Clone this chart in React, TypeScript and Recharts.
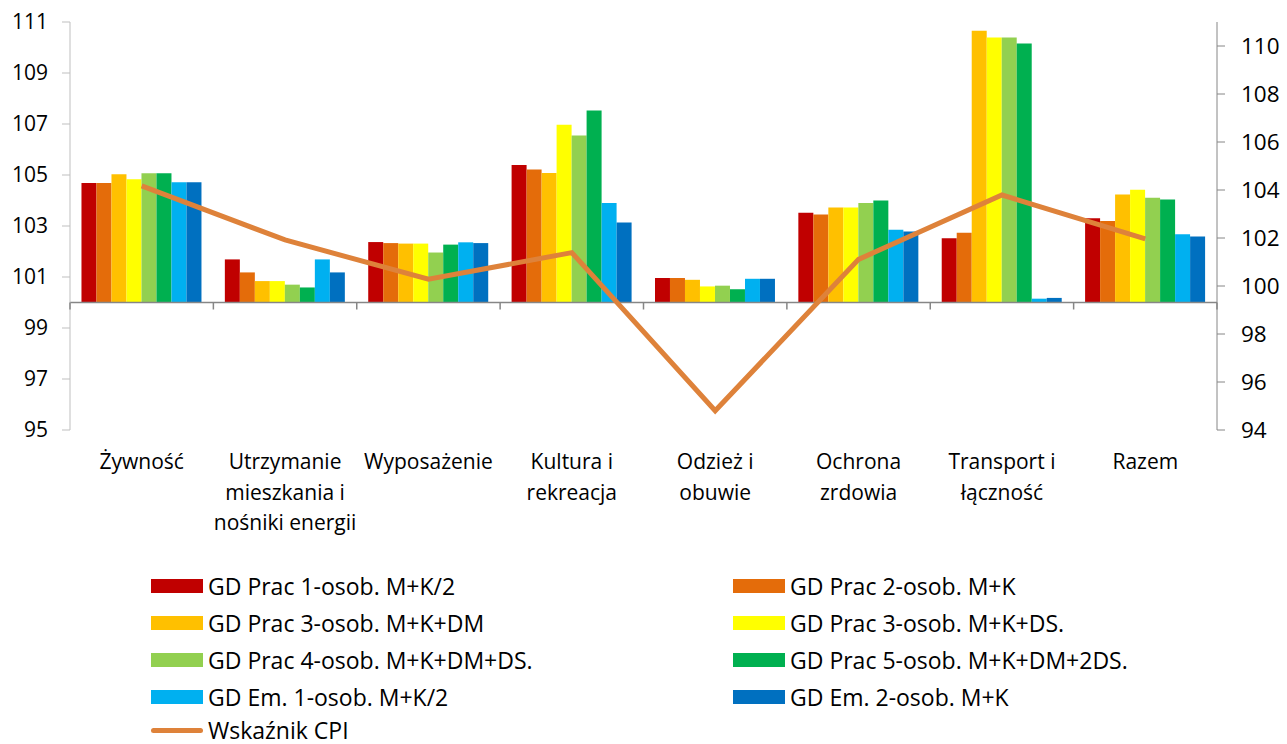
import { Bar, ComposedChart, Line, ReferenceLine, XAxis, YAxis } from "recharts";

const categories = [
  "Żywność",
  "Utrzymanie\nmieszkania i\nnośniki energii",
  "Wyposażenie",
  "Kultura i\nrekreacja",
  "Odzież i\nobuwie",
  "Ochrona\nzrdowia",
  "Transport i\nłączność",
  "Razem",
];

const prac1 = [104.69, 101.69, 102.37, 105.39, 100.96, 103.52, 102.52, 103.3];
const prac2 = [104.69, 101.18, 102.33, 105.22, 100.96, 103.45, 102.74, 103.2];
const prac3dm = [105.03, 100.84, 102.31, 105.08, 100.89, 103.73, 110.66, 104.24];
const prac3ds = [104.83, 100.84, 102.31, 106.97, 100.63, 103.73, 110.39, 104.42];
const prac4 = [105.07, 100.7, 101.96, 106.55, 100.66, 103.9, 110.39, 104.11];
const prac5 = [105.07, 100.59, 102.27, 107.53, 100.52, 104.0, 110.16, 104.04];
const em1 = [104.72, 101.69, 102.36, 103.9, 100.93, 102.85, 100.15, 102.68];
const em2 = [104.72, 101.18, 102.33, 103.14, 100.93, 102.78, 100.18, 102.59];
const cpi = [104.17, 101.92, 100.28, 101.39, 94.8, 101.11, 103.79, 101.96];

const leftTicks = [95, 97, 99, 101, 103, 105, 107, 109, 111];
const rightTicks = [94, 96, 98, 100, 102, 104, 106, 108, 110];

const barSeries = [
  { key: "prac1", name: "GD Prac 1-osob. M+K/2", color: "#C00000", values: prac1 },
  { key: "prac2", name: "GD Prac 2-osob. M+K", color: "#E46C0A", values: prac2 },
  { key: "prac3dm", name: "GD Prac 3-osob. M+K+DM", color: "#FFC000", values: prac3dm },
  { key: "prac3ds", name: "GD Prac 3-osob. M+K+DS.", color: "#FFFF00", values: prac3ds },
  { key: "prac4", name: "GD Prac 4-osob. M+K+DM+DS.", color: "#92D050", values: prac4 },
  { key: "prac5", name: "GD Prac 5-osob. M+K+DM+2DS.", color: "#00B050", values: prac5 },
  { key: "em1", name: "GD Em. 1-osob. M+K/2", color: "#00B0F0", values: em1 },
  { key: "em2", name: "GD Em. 2-osob. M+K", color: "#0070C0", values: em2 },
];

const CPI_COLOR = "#DE823A";
const BASE = 100;

const WIDTH = 1287;
const HEIGHT = 744;
const PLOT_LEFT = 70;
const PLOT_RIGHT = 1217;
const PLOT_TOP = 22;
const PLOT_BOTTOM = 430;
const LEFT_DOMAIN = [95, 111];
const RIGHT_DOMAIN = [94, 111];
const FONT = "'Open Sans', sans-serif";

const chartData = categories.map((name, i) => {
  const row: Record<string, number | string> = { name, cpi: cpi[i] };
  barSeries.forEach((s) => {
    row[s.key] = s.values[i];
  });
  return row;
});

const band = (PLOT_RIGHT - PLOT_LEFT) / categories.length;
const baseY =
  PLOT_TOP +
  ((LEFT_DOMAIN[1] - BASE) / (LEFT_DOMAIN[1] - LEFT_DOMAIN[0])) *
    (PLOT_BOTTOM - PLOT_TOP);

const CategoryTick = (props: any) => {
  const { x, y, payload, index } = props;
  const lines = String(payload.value).split("\n");
  const left = x - band / 2;
  return (
    <g>
      <line x1={left} y1={baseY} x2={left} y2={baseY + 7} stroke="#868686" strokeWidth={1.5} />
      {index === categories.length - 1 && (
        <line
          x1={x + band / 2}
          y1={baseY}
          x2={x + band / 2}
          y2={baseY + 7}
          stroke="#868686"
          strokeWidth={1.5}
        />
      )}
      <text x={x} y={y + 39} textAnchor="middle" fill="#000" fontSize={21} fontFamily={FONT}>
        {lines.map((l, i) => (
          <tspan key={i} x={x} dy={i === 0 ? 0 : 30.5}>
            {l}
          </tspan>
        ))}
      </text>
    </g>
  );
};

const legendRows = [
  [barSeries[0], barSeries[1]],
  [barSeries[2], barSeries[3]],
  [barSeries[4], barSeries[5]],
  [barSeries[6], barSeries[7]],
];

const LegendBlock = () => (
  <div style={{ position: "absolute", left: 0, top: 0, fontFamily: FONT, fontSize: 23 }}>
    {legendRows.map((row, r) =>
      row.map((s, c) => (
        <div
          key={s.key}
          style={{
            position: "absolute",
            left: c === 0 ? 151 : 733,
            top: 586 + r * 37 - 15,
            height: 30,
            display: "flex",
            alignItems: "center",
            whiteSpace: "nowrap",
          }}
        >
          <div style={{ width: 52, height: 14, backgroundColor: s.color, marginRight: 5 }} />
          <span>{s.name}</span>
        </div>
      ))
    )}
    <div
      style={{
        position: "absolute",
        left: 151,
        top: 730 - 15,
        height: 30,
        display: "flex",
        alignItems: "center",
        whiteSpace: "nowrap",
      }}
    >
      <div
        style={{ width: 52, height: 5, borderRadius: 3, backgroundColor: CPI_COLOR, marginRight: 5 }}
      />
      <span>Wskaźnik CPI</span>
    </div>
  </div>
);

export default function App() {
  return (
    <div style={{ position: "absolute", left: 0, top: 0, width: WIDTH, height: HEIGHT, background: "#fff" }}>
      <ComposedChart
        width={WIDTH}
        height={HEIGHT}
        data={chartData}
        margin={{ top: PLOT_TOP, right: 0, bottom: 0, left: 0 }}
        barCategoryGap="8%"
        barGap={0}
      >
        <XAxis
          dataKey="name"
          axisLine={false}
          tickLine={false}
          tickSize={0}
          tickMargin={0}
          interval={0}
          height={HEIGHT - PLOT_BOTTOM}
          tick={<CategoryTick />}
        />
        <YAxis
          yAxisId="left"
          orientation="left"
          width={PLOT_LEFT}
          domain={LEFT_DOMAIN}
          ticks={leftTicks}
          allowDataOverflow
          stroke="#BFBFBF"
          tickSize={8}
          tickMargin={14}
          tick={{ fill: "#000", fontSize: 21, fontFamily: FONT }}
        />
        <YAxis
          yAxisId="right"
          orientation="right"
          width={WIDTH - PLOT_RIGHT}
          domain={RIGHT_DOMAIN}
          ticks={rightTicks}
          allowDataOverflow
          stroke="#868686"
          tickSize={8}
          tickMargin={16}
          tick={{ fill: "#000", fontSize: 22.5, fontFamily: FONT }}
        />
        {barSeries.map((s) => (
          <Bar
            key={s.key}
            yAxisId="left"
            dataKey={(d: any) => [BASE, d[s.key]]}
            name={s.name}
            fill={s.color}
            isAnimationActive={false}
          />
        ))}
        <ReferenceLine yAxisId="left" y={BASE} stroke="#868686" strokeWidth={1.5} />
        <Line
          yAxisId="right"
          dataKey="cpi"
          name="Wskaźnik CPI"
          type="linear"
          stroke={CPI_COLOR}
          strokeWidth={5}
          dot={false}
          isAnimationActive={false}
        />
      </ComposedChart>
      <LegendBlock />
    </div>
  );
}
